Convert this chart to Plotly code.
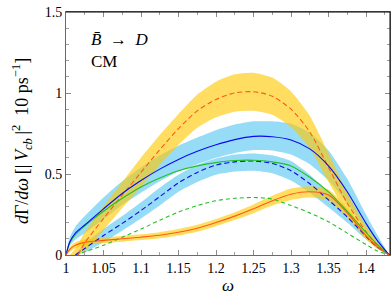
import plotly.graph_objects as go

# ---------------- data ----------------
W = [1.0, 1.005, 1.0125, 1.025, 1.05, 1.075, 1.1, 1.125, 1.15, 1.175, 1.2,
     1.225, 1.25, 1.275, 1.3, 1.325, 1.35, 1.375, 1.4, 1.415, 1.431]

# blue solid + band
blue_solid = [0, 0.08, 0.135, 0.185, 0.285, 0.38, 0.46, 0.53, 0.59, 0.64, 0.68,
              0.712, 0.732, 0.73, 0.71, 0.655, 0.55, 0.39, 0.195, 0.09, 0]
blue_solid_hi = [0, 0.11, 0.175, 0.24, 0.355, 0.455, 0.54, 0.615, 0.675, 0.725, 0.77,
                 0.805, 0.825, 0.825, 0.81, 0.755, 0.645, 0.47, 0.25, 0.125, 0]
blue_solid_lo = [0, 0.055, 0.095, 0.135, 0.22, 0.31, 0.385, 0.455, 0.515, 0.56, 0.6,
                 0.63, 0.648, 0.645, 0.62, 0.56, 0.46, 0.32, 0.155, 0.07, 0]

# green solid
green_solid = [0, 0.075, 0.125, 0.18, 0.27, 0.35, 0.42, 0.475, 0.52, 0.55, 0.57,
               0.583, 0.585, 0.575, 0.55, 0.48, 0.39, 0.27, 0.14, 0.065, 0]

# orange solid + band
orange_solid = [0, 0.035, 0.06, 0.078, 0.09, 0.1, 0.11, 0.122, 0.14, 0.165, 0.2,
                0.24, 0.285, 0.335, 0.375, 0.39, 0.37, 0.26, 0.12, 0.05, 0]
orange_solid_hi = [0, 0.05, 0.078, 0.097, 0.108, 0.118, 0.128, 0.141, 0.16, 0.186, 0.222,
                   0.264, 0.312, 0.365, 0.41, 0.425, 0.405, 0.29, 0.14, 0.06, 0]
orange_solid_lo = [0, 0.02, 0.042, 0.06, 0.072, 0.082, 0.092, 0.103, 0.12, 0.144, 0.178,
                   0.216, 0.258, 0.305, 0.34, 0.355, 0.335, 0.23, 0.1, 0.04, 0]

# dashed curves (start slightly above w = 1)
W_d = [1.0125, 1.025, 1.05, 1.075, 1.1, 1.125, 1.15, 1.175, 1.2, 1.225, 1.25,
       1.275, 1.3, 1.325, 1.35, 1.375, 1.4, 1.415, 1.431]
blue_dash = [0, 0.04, 0.12, 0.195, 0.275, 0.36, 0.445, 0.51, 0.555, 0.575, 0.58,
             0.565, 0.52, 0.44, 0.34, 0.235, 0.115, 0.05, 0]
blue_dash_hi = [0, 0.07, 0.16, 0.24, 0.325, 0.415, 0.495, 0.555, 0.595, 0.62, 0.627,
                0.615, 0.58, 0.495, 0.385, 0.27, 0.135, 0.06, 0]
blue_dash_lo = [0, 0.015, 0.08, 0.15, 0.225, 0.305, 0.39, 0.45, 0.495, 0.515, 0.52,
                0.505, 0.46, 0.385, 0.295, 0.2, 0.095, 0.04, 0]
green_dash = [0, 0.02, 0.06, 0.11, 0.16, 0.215, 0.265, 0.305, 0.335, 0.35, 0.355,
              0.345, 0.305, 0.26, 0.205, 0.135, 0.065, 0.025, 0]

W_od = [1.016, 1.025, 1.05, 1.075, 1.1, 1.125, 1.15, 1.175, 1.2, 1.225, 1.25,
        1.275, 1.3, 1.325, 1.35, 1.375, 1.4, 1.415, 1.431]
orange_dash = [0, 0.075, 0.225, 0.37, 0.51, 0.65, 0.78, 0.89, 0.96, 1.0, 1.008,
               0.98, 0.9, 0.76, 0.54, 0.32, 0.145, 0.06, 0]
W_odh = [1.005, 1.0125, 1.025, 1.05, 1.075, 1.1, 1.125, 1.15, 1.175, 1.2, 1.225, 1.25,
         1.275, 1.3, 1.325, 1.35, 1.375, 1.4, 1.415, 1.431]
orange_dash_hi = [0, 0.04, 0.14, 0.3, 0.45, 0.6, 0.74, 0.87, 0.99, 1.07, 1.115, 1.125,
                  1.095, 1.01, 0.86, 0.63, 0.385, 0.18, 0.08, 0]
W_odl = [1.0125, 1.025, 1.05, 1.075, 1.1, 1.125, 1.15, 1.175, 1.2, 1.225, 1.25,
         1.275, 1.3, 1.325, 1.35, 1.375, 1.4, 1.415, 1.431]
orange_dash_lo = [0, 0.025, 0.155, 0.29, 0.42, 0.555, 0.68, 0.785, 0.85, 0.885, 0.89,
                  0.865, 0.79, 0.66, 0.45, 0.26, 0.11, 0.04, 0]

x_ticks = [1, 1.05, 1.1, 1.15, 1.2, 1.25, 1.3, 1.35, 1.4]
x_ticktext = ["1", "1.05", "1.1", "1.15", "1.2", "1.25", "1.3", "1.35", "1.4"]
y_ticks = [0, 0.5, 1, 1.5]
y_ticktext = ["0", "0.5", "1", "1.5"]

# ---------------- styles ----------------
YELLOW = "rgba(255,200,0,0.62)"
LBLUE = "rgba(45,185,238,0.5)"
ORANGE = "#FF5A14"
BLUE = "#0A0AF0"
GREEN = "#22C022"
FONT = "Liberation Serif"

fig = go.Figure()


def band(xh, yh, xl, yl, color):
    fig.add_trace(go.Scatter(
        x=list(xh) + list(xl)[::-1], y=list(yh) + list(yl)[::-1],
        fill="toself", fillcolor=color, mode="lines",
        line=dict(width=0, shape="spline", smoothing=0.6),
        hoverinfo="skip", showlegend=False))


def curve(x, y, color, dash=None):
    fig.add_trace(go.Scatter(
        x=x, y=y, mode="lines",
        line=dict(color=color, width=1.1, dash=dash or "solid",
                  shape="spline", smoothing=0.8),
        showlegend=False))


band(W, blue_solid_hi, W, blue_solid_lo, LBLUE)
band(W_d, blue_dash_hi, W_d, blue_dash_lo, LBLUE)
band(W_odh, orange_dash_hi, W_odl, orange_dash_lo, YELLOW)
band(W, orange_solid_hi, W, orange_solid_lo, YELLOW)

curve(W_d, green_dash, GREEN, "4px,3px")
curve(W_d, blue_dash, BLUE, "5px,3px")
curve(W_od, orange_dash, ORANGE, "5px,3px")
curve(W, green_solid, GREEN)
curve(W, blue_solid, BLUE)
curve(W, orange_solid, ORANGE)

axis_common = dict(
    showgrid=False, zeroline=False, showline=True, linecolor="#6a6a6a",
    linewidth=1, mirror="allticks", ticks="inside", ticklen=5,
    tickcolor="#8a8a8a", tickwidth=1,
    tickfont=dict(family=FONT, size=14, color="black"),
)

fig.update_xaxes(range=[1, 1.432], tickvals=x_ticks, ticktext=x_ticktext,
                 minor=dict(dtick=0.025, tick0=1, ticks="inside", ticklen=3,
                            tickcolor="#a0a0a0"),
                 **axis_common)
fig.update_yaxes(range=[0, 1.5], tickvals=y_ticks, ticktext=y_ticktext,
                 minor=dict(dtick=0.1, tick0=0, ticks="inside", ticklen=3,
                            tickcolor="#a0a0a0"),
                 **axis_common)

# black top and right frame
fig.add_shape(type="line", xref="paper", yref="paper", x0=0, x1=1, y0=1, y1=1,
              line=dict(color="black", width=1))
fig.add_shape(type="line", xref="paper", yref="paper", x0=1, x1=1, y0=0, y1=1,
              line=dict(color="black", width=1))

EN = "\u2002"
TH = "\u2009"
fig.add_annotation(text="<i>B\u0304</i>" + EN + "\u2192" + EN + "<i>D</i>",
                   xref="paper", yref="paper",
                   x=0.07, y=0.885, xanchor="left", yanchor="middle", showarrow=False,
                   font=dict(family=FONT, size=17, color="black"))
fig.add_annotation(text="CM", xref="paper", yref="paper",
                   x=0.07, y=0.798, xanchor="left", yanchor="middle", showarrow=False,
                   font=dict(family=FONT, size=17, color="black"))
ytitle = ("<i>d</i>\u0393/<i>d\u03c9</i>" + TH + "[|" + TH + "<i>V</i><sub><i>cb</i></sub>"
          + TH + "|<sup>2</sup>" + EN + "10 ps<sup>\u22121</sup>]")
fig.add_annotation(text=ytitle,
                   xref="paper", yref="paper", x=-0.135, y=0.47, textangle=-90,
                   xanchor="center", yanchor="middle", showarrow=False,
                   font=dict(family=FONT, size=18, color="black"))
fig.add_annotation(text="<i>\u03c9</i>", xref="paper", yref="paper",
                   x=0.5, y=-0.125, xanchor="center", yanchor="middle", showarrow=False,
                   font=dict(family=FONT, size=17, color="black"))

fig.update_layout(width=392, height=299, margin=dict(l=66, r=2, t=12, b=44),
                  paper_bgcolor="white", plot_bgcolor="white")

fig.write_html("out.html", config={"displayModeBar": False},
               post_script="document.body.style.margin='0px';document.body.style.overflow='hidden';")
